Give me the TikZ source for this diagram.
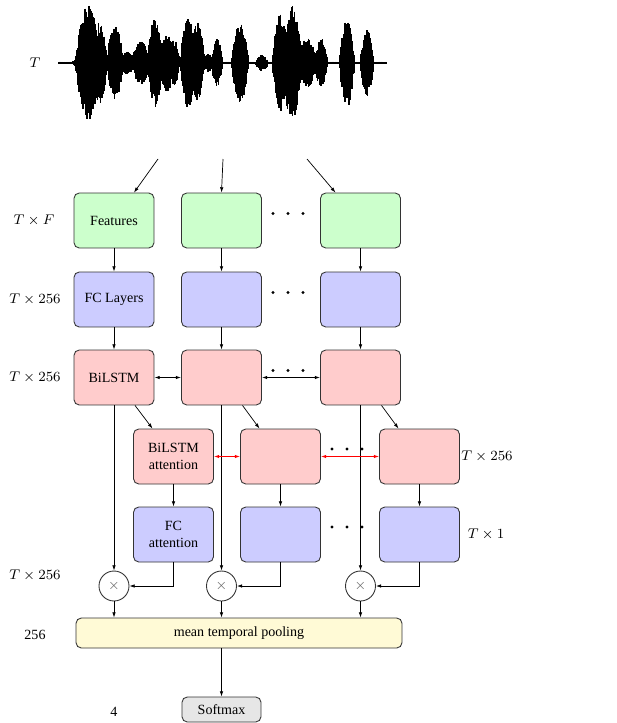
\documentclass[tikz,border=0pt]{standalone}
\usepackage{amsmath}
\usepackage{fontspec}
\setmainfont{Liberation Serif}
\usepackage{xcolor}
\usepackage{tikz}
\usetikzlibrary{arrows.meta, positioning}
\definecolor{featgreen}{RGB}{204, 255, 204}
\definecolor{fcblue}{RGB}{204, 204, 255}
\definecolor{lstmred}{RGB}{255, 204, 204}
\definecolor{poolyellow}{RGB}{255, 250, 214}
\definecolor{softgray}{RGB}{230, 230, 230}

\begin{document}
\begin{tikzpicture}[
  x=0.02cm, y=-0.02cm,
  >={Latex[length=3pt, width=2pt]},
  block/.style={
    rectangle, rounded corners=3pt, draw=black!80, fill=#1,
    line width=0.5pt, minimum height=1.1cm, minimum width=1.6cm,
    font=\footnotesize, align=center
  },
  mult/.style={circle, draw=black!80, fill=white, line width=0.5pt,
    minimum size=0.6cm, inner sep=0pt, text=black!60, font=\footnotesize},
  dimlbl/.style={font=\footnotesize},
  flow/.style={->, line width=0.4pt},
  both/.style={<->, line width=0.5pt},
  redboth/.style={<->, line width=0.5pt, draw=red},
  declare function={
    bump(\x,\c,\a,\w)=\a*max(0,1-((\x-\c)/\w)^2);
    env(\x)=max(1.2,bump(\x,79,6,7),bump(\x,88,58,13),bump(\x,99,42,9),
      bump(\x,115,36,9),bump(\x,127,12,8),bump(\x,141,22,10),bump(\x,155,44,8),
      bump(\x,167,29,9),bump(\x,174,24,6),bump(\x,188,46,8),bump(\x,197,41,8),
      bump(\x,208,9,7),bump(\x,217,24,6),bump(\x,240,40,9),bump(\x,262,8,7),
      bump(\x,280,49,8),bump(\x,292,57,11),bump(\x,307,26,10),bump(\x,321,25,7),
      bump(\x,347,45,8),bump(\x,367,35,7));
  },
]
\useasboundingbox (0,0) rectangle (616,723);

\def\colA{114}
\def\colB{221.5}
\def\colC{360.5}
\def\attA{173.5}
\def\attB{280.5}
\def\attC{419.5}

\def\rA{220.5}
\def\rB{299.5}
\def\rC{377.5}
\def\rD{456.5}
\def\rE{534.5}
\def\rF{586}
\def\rG{633}
\def\rH{709.5}

% Waveform
\node[dimlbl] (tlbl) at (35, 63) {$T$};
\pgfmathsetseed{4711}
\draw[line width=0.3pt] (59, 63) -- (386, 63);
\foreach \x in {59,59.5,...,386} {
  \pgfmathsetmacro\up{env(\x)*(0.45+0.55*rnd^0.6)}
  \pgfmathsetmacro\dn{env(\x)*(0.45+0.55*rnd^0.6)}
  \draw[line width=0.6pt] (\x, 63-\up) -- (\x, 63+\dn);
}

% Row labels
\node[dimlbl] (lblA) at (34, \rA) {$T \times F$};
\node[dimlbl] (lblB) at (35, \rB) {$T \times 256$};
\node[dimlbl] (lblC) at (35, \rC) {$T \times 256$};
\node[dimlbl] (lblD) at (487, \rD) {$T \times 256$};
\node[dimlbl] (lblE) at (486, \rE) {$T \times 1$};
\node[dimlbl] (lblF) at (35, 575) {$T \times 256$};
\node[dimlbl] (lblG) at (35, 635) {256};
\node[dimlbl] (lblH) at (114, 712) {4};

% Features
\node[block=featgreen] (featA) at (\colA, \rA) {Features};
\node[block=featgreen] (featB) at (\colB, \rA) {};
\node[block=featgreen] (featC) at (\colC, \rA) {};

% FC layers
\node[block=fcblue] (fcA) at (\colA, \rB) {FC Layers};
\node[block=fcblue] (fcB) at (\colB, \rB) {};
\node[block=fcblue] (fcC) at (\colC, \rB) {};

% BiLSTM
\node[block=lstmred] (lstmA) at (\colA, \rC) {BiLSTM};
\node[block=lstmred] (lstmB) at (\colB, \rC) {};
\node[block=lstmred] (lstmC) at (\colC, \rC) {};

% Attention
\node[block=lstmred] (attnA) at (\attA, \rD) {BiLSTM\\attention};
\node[block=lstmred] (attnB) at (\attB, \rD) {};
\node[block=lstmred] (attnC) at (\attC, \rD) {};

\node[block=fcblue] (fcattA) at (\attA, \rE) {FC\\attention};
\node[block=fcblue] (fcattB) at (\attB, \rE) {};
\node[block=fcblue] (fcattC) at (\attC, \rE) {};

% Multipliers
\node[mult] (mulA) at (\colA, \rF) {$\times$};
\node[mult] (mulB) at (\colB, \rF) {$\times$};
\node[mult] (mulC) at (\colC, \rF) {$\times$};

% Pooling and softmax
\node[block=poolyellow, minimum width=6.52cm, minimum height=0.6cm] (pool) at (239, \rG) {mean temporal pooling};
\node[block=softgray, minimum width=1.58cm, minimum height=0.5cm] (soft) at (\colB, \rH) {Softmax};

% Dots
\foreach \y in {\rA, \rB, \rC}
  \foreach \x in {273, 288, 303}
    \fill (\x, \y-7) circle (1.6);
\foreach \y in {\rD, \rE}
  \foreach \x in {332, 347, 362}
    \fill (\x, \y-7.5) circle (1.6);

% Input arrows
\coordinate (inA) at (158, 159);
\coordinate (inB) at (223, 159);
\coordinate (inC) at (307, 159);
\draw[flow] (inA) -- ([xshift=0.4cm]featA.north);
\draw[flow] (inB) -- (featB.north);
\draw[flow] (inC) -- ([xshift=-0.5cm]featC.north);

% Vertical flow
\foreach \c in {A, B, C} {
  \draw[flow] (feat\c) -- (fc\c);
  \draw[flow] (fc\c) -- (lstm\c);
  \draw[flow] (lstm\c) -- (mul\c);
  \draw[flow] ([xshift=0.42cm]lstm\c.south) -- ([xshift=-0.42cm]attn\c.north);
  \draw[flow] (attn\c) -- (fcatt\c);
  \draw[flow] (fcatt\c.south) |- (mul\c.east);
  \draw[flow] (mul\c) -- (mul\c |- pool.north);
}

% Recurrent links
\draw[both] (lstmA) -- (lstmB);
\draw[both] (lstmB) -- (lstmC);
\draw[redboth] (attnA) -- (attnB);
\draw[redboth] (attnB) -- (attnC);

% Output
\draw[flow] (pool.south -| soft) -- (soft.north);

\end{tikzpicture}
\end{document}
